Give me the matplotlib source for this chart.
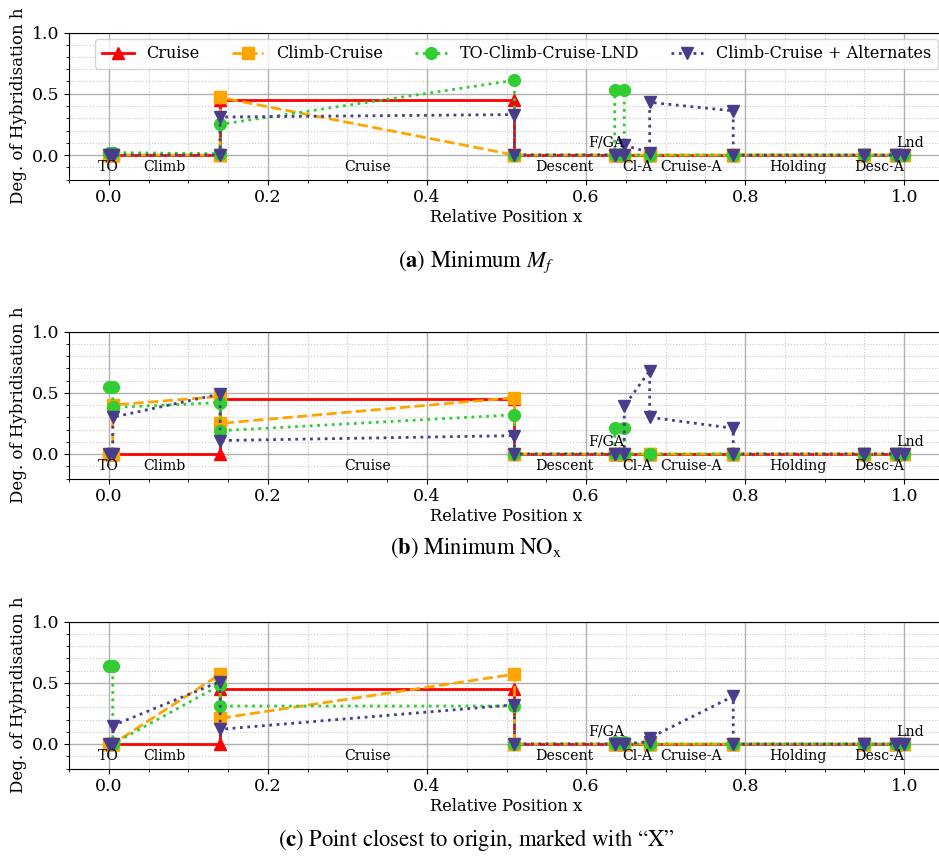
import matplotlib
matplotlib.use("Agg")
import matplotlib.pyplot as plt
from matplotlib.ticker import AutoMinorLocator, MultipleLocator

plt.rcParams['font.family'] = ['DejaVu Serif']
plt.rcParams['font.size'] = 11

# mission segment boundaries (relative position x)
boundaries = [0.0, 0.005, 0.14, 0.51, 0.636, 0.648, 0.68, 0.785, 0.95, 0.99, 1.0]
phases = ["TO", "Climb", "Cruise", "Descent", "F/GA", "Cl-A", "Cruise-A", "Holding", "Desc-A", "Lnd"]
phase_x = [0.0, 0.07, 0.325, 0.573, 0.648, 0.665, 0.732, 0.866, 0.968, 0.99]
phase_y = [-0.1, -0.1, -0.1, -0.1, 0.1, -0.1, -0.1, -0.1, -0.1, 0.1]
phase_ha = ["center", "center", "center", "center", "right", "center", "center", "center", "center", "left"]

series_names = ["Cruise", "Climb-Cruise", "TO-Climb-Cruise-LND", "Climb-Cruise + Alternates"]

# h at start / end of every segment: TO, Climb, Cruise, Descent, F/GA, Cl-A, Cruise-A, Holding, Desc-A, Lnd
h_a_cruise = [0, 0, 0, 0, 0.45, 0.45, 0, 0, 0, 0, 0, 0, 0, 0, 0, 0, 0, 0, 0, 0]
h_a_climbcruise = [0, 0, 0, 0, 0.47, 0.0, 0, 0, 0, 0, 0, 0, 0, 0, 0, 0, 0, 0, 0, 0]
h_a_tolnd = [0.02, 0.02, 0.02, 0.01, 0.25, 0.61, 0, 0, 0.53, 0.53, 0, 0, 0, 0, 0, 0, 0, 0, 0, 0]
h_a_alt = [0, 0, 0, 0, 0.31, 0.33, 0, 0, 0, 0, 0.08, 0.02, 0.43, 0.36, 0, 0, 0, 0, 0, 0]

h_b_cruise = [0, 0, 0, 0, 0.45, 0.45, 0, 0, 0, 0, 0, 0, 0, 0, 0, 0, 0, 0, 0, 0]
h_b_climbcruise = [0, 0, 0.40, 0.47, 0.25, 0.46, 0, 0, 0, 0, 0, 0, 0, 0, 0, 0, 0, 0, 0, 0]
h_b_tolnd = [0.55, 0.55, 0.38, 0.42, 0.19, 0.32, 0, 0, 0.21, 0.21, 0, 0, 0, 0, 0, 0, 0, 0, 0, 0]
h_b_alt = [0, 0, 0.30, 0.49, 0.11, 0.15, 0, 0, 0, 0, 0.39, 0.68, 0.30, 0.21, 0, 0, 0, 0, 0, 0]

h_c_cruise = [0, 0, 0, 0, 0.45, 0.45, 0, 0, 0, 0, 0, 0, 0, 0, 0, 0, 0, 0, 0, 0]
h_c_climbcruise = [0, 0, 0, 0.57, 0.21, 0.57, 0, 0, 0, 0, 0, 0, 0, 0, 0, 0, 0, 0, 0, 0]
h_c_tolnd = [0.64, 0.64, 0, 0.48, 0.31, 0.31, 0, 0, 0.02, 0.02, 0, 0, 0, 0, 0, 0, 0, 0, 0, 0]
h_c_alt = [0, 0, 0.15, 0.51, 0.12, 0.32, 0, 0, 0, 0, 0, 0.02, 0.05, 0.39, 0, 0, 0, 0, 0, 0]

panels = [
    ([h_a_cruise, h_a_climbcruise, h_a_tolnd, h_a_alt], r"Minimum $M_f$", "a"),
    ([h_b_cruise, h_b_climbcruise, h_b_tolnd, h_b_alt], r"Minimum NO$_\mathrm{x}$", "b"),
    ([h_c_cruise, h_c_climbcruise, h_c_tolnd, h_c_alt], "Point closest to origin, marked with \u201cX\u201d", "c"),
]

styles = [
    dict(color="red", ls="-", marker="^"),
    dict(color="orange", ls="--", marker="s"),
    dict(color="limegreen", ls=":", marker="o"),
    dict(color="darkslateblue", ls=":", marker="v"),
]

x_pts = []
for i in range(len(boundaries) - 1):
    x_pts += [boundaries[i], boundaries[i + 1]]

W, H = 939, 857
fig = plt.figure(figsize=(W / 100, H / 100), dpi=100)

ax_tops = [32.5, 331.5, 621.5]
ax_h = 147
cap_y = [262, 548, 840]

for k, (data, caption, letter) in enumerate(panels):
    top = ax_tops[k]
    ax = fig.add_axes([69 / W, 1 - (top + ax_h) / H, 875 / W, ax_h / H])
    for h, name, st in zip(data, series_names, styles):
        ax.plot(x_pts, h, color=st["color"], ls=st["ls"], marker=st["marker"],
                lw=2, ms=8.5, label=name)
    for name, px, py, ha in zip(phases, phase_x, phase_y, phase_ha):
        ax.text(px, py, name, ha=ha, va="center", fontsize=10.2)
    ax.set_xlim(-0.05, 1.05)
    ax.set_ylim(-0.2, 1.0)
    ax.xaxis.set_major_locator(MultipleLocator(0.2))
    ax.xaxis.set_minor_locator(AutoMinorLocator(4))
    ax.yaxis.set_major_locator(MultipleLocator(0.5))
    ax.yaxis.set_minor_locator(AutoMinorLocator(5))
    ax.tick_params(which="major", labelsize=12.5)
    ax.grid(which="major", color="#b0b0b0", lw=1)
    ax.grid(which="minor", color="#c8c8c8", ls=":", lw=0.8)
    ax.set_axisbelow(True)
    ax.set_xlabel("Relative Position x", fontsize=11.7, labelpad=2)
    ax.set_ylabel("Deg. of Hybridisation h", fontsize=12, labelpad=3)
    if k == 0:
        ax.legend(loc="upper right", ncol=4, fontsize=11.5, borderaxespad=0.4)
    fig.text(476 / W, 1 - cap_y[k] / H, r"($\mathbf{%s}$) %s" % (letter, caption),
             ha="center", va="center", fontsize=16.3, family="STIXGeneral",
             math_fontfamily="stix")

plt.savefig("out.png", dpi=100)
